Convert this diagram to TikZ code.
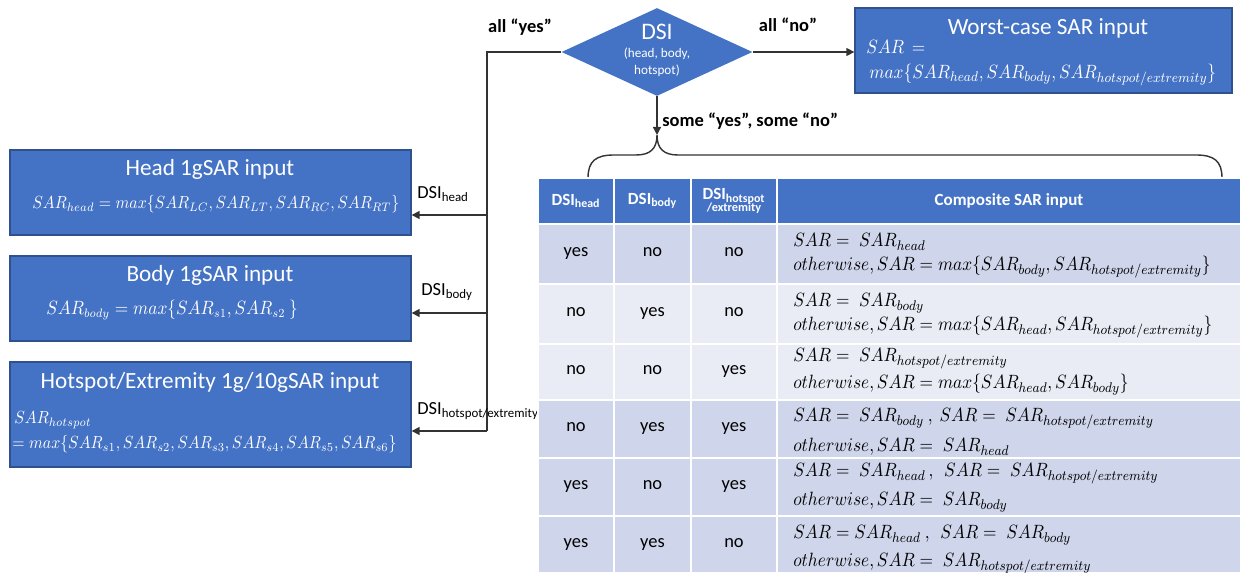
\documentclass[tikz,border=0pt]{standalone}
\usepackage{fontspec}
\setmainfont{Carlito}
\usepackage{amsmath}
\usepackage{graphicx}
\usetikzlibrary{shapes.geometric,arrows.meta,positioning}
\definecolor{boxblue}{HTML}{4472C4}
\definecolor{boxedge}{HTML}{2F528F}
\definecolor{rowdark}{HTML}{CFD5EA}
\definecolor{rowlight}{HTML}{E9EBF5}
\newcommand{\SARhs}{SAR_{hotspot/extremity}}
\newcommand{\sq}[1]{\scalebox{0.9}[1]{$#1$}}
\tikzset{
    sarbox/.style={draw=boxedge,fill=boxblue,line width=0.8pt,inner sep=0pt,minimum width=8.02cm},
    boxtitle/.style={text=white,inner sep=0pt,font=\fontsize{13.2}{15}\selectfont},
    boxmath/.style={text=white,inner sep=0pt,anchor=west,font=\fontsize{10}{12}\selectfont},
    flowlbl/.style={inner sep=0pt,font=\bfseries\fontsize{10.5}{12}\selectfont},
    dsilbl/.style={inner sep=0pt,anchor=west,font=\fontsize{10.5}{12}\selectfont},
    conn/.style={draw=black!80,line width=0.8pt},
    flow/.style={conn,-{Triangle[length=1.6mm,width=1.6mm]}},
    cell/.style 2 args={draw=white,line width=1.5pt,inner sep=0pt,minimum width=#1*0.02cm,minimum height=#2*0.02cm},
    headcell/.style={fill=boxblue,text=white,align=center,font=\bfseries\fontsize{9.7}{10}\selectfont},
    celltxt/.style={anchor=base west,inner sep=0pt,font=\fontsize{11.1}{13}\selectfont}
}
\begin{document}
\begin{tikzpicture}[x=0.02cm,y=-0.02cm]
\useasboundingbox (0,0) rectangle (1241,573);

\node[diamond,fill=boxblue,inner sep=0pt,minimum width=3.82cm,minimum height=1.76cm] (dsi) at (657,52) {};
\node[text=white,align=center,inner sep=0pt,font=\fontsize{7.5}{9.5}\selectfont] (dsitxt) at (657,50) {{\fontsize{13.5}{15}\selectfont DSI}\\[1pt](head, body,\\hotspot)};

\node[sarbox,minimum width=7.54cm,minimum height=1.7cm] (worst) at (1043.5,50.5) {};
\node[boxtitle] (worsttitle) at (1048,28) {Worst-case SAR input};
\node[boxmath,font=\fontsize{11}{12}\selectfont] (worstm1) at (866,47) {\sq{SAR\,=}};
\node[boxmath,font=\fontsize{11}{12}\selectfont] (worstm2) at (869,75) {\sq{max\{SAR_{head},SAR_{body},\SARhs\}}};

\node[sarbox,minimum height=1.7cm] (headbox) at (210.5,192.5) {};
\node[boxtitle] (headtitle) at (210,169) {Head 1gSAR input};
\node[boxmath,font=\fontsize{9.8}{12}\selectfont] (headm) at (32,204) {\sq{SAR_{head}=max\{SAR_{LC},SAR_{LT},SAR_{RC},SAR_{RT}\}}};

\node[sarbox,minimum height=1.7cm] (bodybox) at (210.5,298.5) {};
\node[boxtitle] (bodytitle) at (210,275) {Body 1gSAR input};
\node[boxmath,font=\fontsize{10.6}{12}\selectfont] (bodym) at (46,310) {\sq{SAR_{body}=max\{SAR_{s1},SAR_{s2}\ \}}};

\node[sarbox,minimum height=2.1cm] (hotbox) at (210.5,414.5) {};
\node[boxtitle] (hottitle) at (210,382) {Hotspot/Extremity 1g/10gSAR input};
\node[boxmath] (hotm1) at (14,420) {\sq{SAR_{hotspot}}};
\node[boxmath,font=\fontsize{10.1}{12}\selectfont] (hotm2) at (12,444) {\sq{=max\{SAR_{s1},SAR_{s2},SAR_{s3},SAR_{s4},SAR_{s5},SAR_{s6}\}}};

\node[flowlbl] (allyes) at (520,27) {all “yes”};
\node[flowlbl] (allno) at (788,25) {all “no”};
\node[flowlbl,anchor=west] (someyes) at (662,121) {some “yes”, some “no”};

\coordinate (trunktop) at (487,52);
\coordinate (headin) at (487,215);
\coordinate (bodyin) at (487,313);
\coordinate (hotin) at (487,431);
\coordinate (cusp) at (657,135);
\coordinate (braceL) at (588,178);
\coordinate (braceR) at (1222,178);

\draw[conn] (dsi.west) -- (trunktop) -- (hotin);
\draw[flow] (headin) -- (headin -| headbox.east);
\draw[flow] (bodyin) -- (bodyin -| bodybox.east);
\draw[flow] (hotin) -- (hotin -| hotbox.east);
\draw[flow] (dsi.east) -- (dsi.east -| worst.west);
\draw[flow] (dsi.south) -- (cusp);
\node[dsilbl] (lblhead) at (417,194) {DSI\textsubscript{head}};
\node[dsilbl] (lblbody) at (421,292) {DSI\textsubscript{body}};
\node[dsilbl] (lblhot) at (417,411) {DSI\textsubscript{hotspot/extremity}};

\draw[conn] (braceL) .. controls (588,161) and (596,155) .. (614,155) -- (636,155)
    .. controls (650,155) and (657,149) .. (cusp)
    .. controls (657,149) and (664,155) .. (678,155) -- (1196,155)
    .. controls (1214,155) and (1222,161) .. (braceR);

\node[cell={76}{46},headcell] (h1) at (576,201) {DSI\textsubscript{head}};
\node[cell={77}{46},headcell] (h2) at (652.5,201) {DSI\textsubscript{body}};
\node[cell={86}{46},headcell] (h3) at (734,201) {DSI\textsubscript{hotspot}\\[-3pt]{\fontsize{7}{8}\selectfont /extremity}};
\node[cell={464}{46},headcell] (h4) at (1009,201) {Composite SAR input};

\foreach \n/\yc/\rh/\col/\vhead/\vbody/\vhot/\ya/\yb/\ta/\tb in {
    1/254/60/rowdark/yes/no/no/247/271/{SAR=\;SAR_{head}}/{otherwise,SAR=max\{SAR_{body},\SARhs\}},
    2/314/60/rowlight/no/yes/no/307/331/{SAR=\;SAR_{body}}/{otherwise,SAR=max\{SAR_{head},\SARhs\}},
    3/372/56/rowlight/no/no/yes/362/389/{SAR=\;\SARhs}/{otherwise,SAR=max\{SAR_{head},SAR_{body}\}},
    4/429/58/rowdark/no/yes/yes/422/452/{SAR=\;SAR_{body}\ ,\ SAR=\;\SARhs}/{otherwise,SAR=\;SAR_{head}},
    5/487/58/rowdark/yes/no/yes/477/506/{SAR=\;SAR_{head}\,,\ \ SAR=\;\SARhs}/{otherwise,SAR=\;SAR_{body}},
    6/544.5/57/rowdark/yes/yes/no/539/567/{SAR=SAR_{head}\ ,\ \ SAR=\;SAR_{body}}/{otherwise,SAR=\;\SARhs}}{
    \node[cell={76}{\rh},fill=\col,font=\fontsize{10.5}{12}\selectfont] (r\n c1) at (576,\yc) {\vphantom{y}\vhead};
    \node[cell={77}{\rh},fill=\col,font=\fontsize{10.5}{12}\selectfont] (r\n c2) at (652.5,\yc) {\vphantom{y}\vbody};
    \node[cell={86}{\rh},fill=\col,font=\fontsize{10.5}{12}\selectfont] (r\n c3) at (734,\yc) {\vphantom{y}\vhot};
    \node[cell={464}{\rh},fill=\col] (r\n c4) at (1009,\yc) {};
    \node[celltxt] (t\n a) at (793,\ya) {\sq{\ta}};
    \node[celltxt] (t\n b) at (793,\yb) {\sq{\tb}};
}
\end{tikzpicture}
\end{document}
